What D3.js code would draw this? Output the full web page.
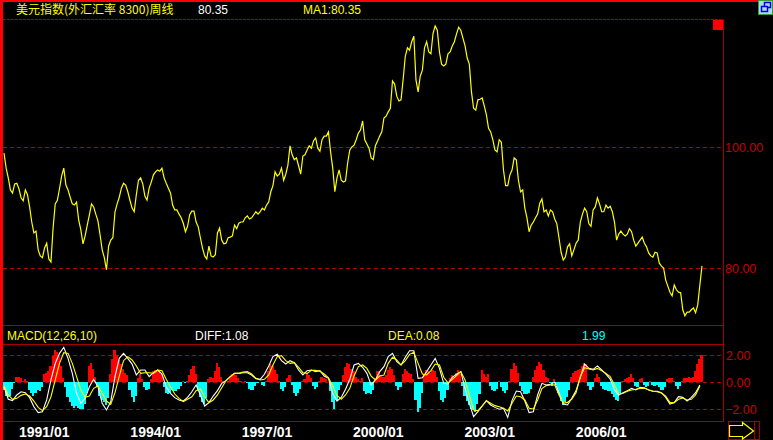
<!DOCTYPE html>
<html><head><meta charset="utf-8">
<script src="https://cdn.jsdelivr.net/npm/d3@7"></script>
<style>html,body{margin:0;padding:0;background:#000;overflow:hidden}</style>
</head><body><svg id="c" width="773" height="440"></svg>
<script>
// ---------------- data ----------------
const titleText = "美元指数(外汇汇率 8300)周线";
const closeText = "80.35";
const maText = "MA1:80.35";
const macdTitle = "MACD(12,26,10)";
const diffText = "DIFF:1.08";
const deaText = "DEA:0.08";
const macdText = "1.99";

const startDate = new Date(1990, 7, 7);
const priceStepDays = 21;   // one sample every 3 weeks
const lineStepDays = 42;    // DIFF / DEA sampled every 6 weeks

const price = [
99.0,96.5,94.9,92.9,92.4,93.9,94.0,93.1,91.6,91.1,
92.9,92.1,90.1,87.6,85.8,86.1,83.0,82.0,81.7,83.3,
84.1,81.5,81.0,86.6,90.6,91.2,93.1,95.2,96.5,93.7,
92.9,91.7,90.6,90.4,90.9,87.9,86.3,84.0,85.3,87.1,
88.8,90.6,90.1,88.9,87.8,85.5,83.0,81.7,79.7,83.6,
84.6,85.0,89.3,90.6,91.7,93.2,94.0,93.7,92.6,91.2,
89.9,89.3,92.1,94.5,94.9,93.9,91.9,91.2,93.2,94.2,
95.4,95.9,96.2,96.0,96.5,94.9,94.0,93.2,92.4,90.4,
89.6,89.6,88.9,88.3,87.4,86.0,86.9,88.8,89.4,89.4,
87.6,86.8,85.0,83.3,82.0,81.5,83.6,82.0,81.8,82.2,
85.8,86.6,84.6,84.0,84.1,85.0,85.1,85.3,87.1,86.5,
87.4,87.6,87.6,88.3,88.6,88.1,88.3,88.8,89.3,88.9,
89.3,89.9,89.6,90.4,90.9,92.6,93.6,95.9,95.2,95.5,
96.5,94.5,95.5,97.0,100.2,98.7,97.9,98.2,96.9,95.5,
98.5,98.7,99.5,100.2,99.8,101.0,101.5,99.8,99.3,101.2,
101.8,101.8,102.5,99.2,96.5,92.6,94.9,96.2,94.5,94.2,
94.4,97.4,99.5,100.0,100.3,101.2,102.3,102.8,104.3,101.2,
100.5,99.8,98.2,97.9,100.2,101.0,101.8,102.5,104.8,105.1,
105.8,106.4,110.9,110.4,108.4,107.6,107.8,111.2,115.0,116.4,
116.0,117.4,118.3,111.1,109.1,111.7,112.7,116.4,117.4,115.7,
115.4,118.8,120.0,119.3,115.7,113.7,113.4,113.7,115.4,115.7,
116.7,117.4,118.7,119.8,119.3,118.0,116.7,114.7,113.7,109.1,
106.4,106.1,107.8,107.9,108.1,106.8,105.3,103.1,102.5,101.2,
99.5,99.2,101.2,100.8,96.2,93.6,93.6,95.4,96.2,98.2,
97.9,94.5,92.6,92.9,89.9,88.3,86.0,87.1,87.6,88.3,
88.9,90.7,91.4,89.3,89.6,88.6,89.6,89.3,88.1,87.3,
85.0,82.6,81.3,81.8,83.5,84.0,82.0,83.0,84.1,84.6,
87.6,88.9,89.9,89.3,87.3,86.9,89.6,90.1,91.6,90.6,
89.3,89.3,90.4,89.9,90.2,89.3,87.6,84.6,85.6,86.1,
85.6,85.3,85.6,86.5,86.0,84.6,83.6,84.1,84.6,85.1,
84.1,83.5,82.5,82.0,81.8,82.6,82.5,80.8,80.3,80.0,
78.0,77.0,76.0,75.4,77.2,76.4,76.0,75.9,73.1,72.1,
72.7,72.7,73.1,73.4,72.6,73.9,77.2,80.35];

const macd = [
-0.6,-1.0,-1.1,-1.0,-0.5,-0.1,0.4,0.4,0.3,0.1,
0.2,0.1,-0.6,-0.8,-1.0,-0.8,-0.6,-0.7,-0.4,0.6,
0.7,0.8,1.2,1.9,2.4,2.2,1.9,1.2,0.3,-0.4,
-1.1,-1.5,-1.8,-1.9,-1.8,-1.9,-2.0,-2.0,-1.6,-0.8,
1.2,1.4,1.0,0.4,-0.4,-1.0,-1.3,-1.5,-1.7,-1.2,
0.6,1.7,2.4,2.0,1.6,1.3,1.0,0.7,0.5,-0.6,
-1.1,-1.5,-1.0,0.3,0.6,0.2,-0.4,-0.6,-0.5,0.2,
0.8,0.9,0.9,0.8,0.6,-0.4,-0.8,-0.9,-0.8,-0.6,
-0.7,-0.7,-0.5,-0.3,0.1,-0.1,0.1,0.5,1.0,1.2,
0.6,-0.6,-1.1,-1.5,-1.6,-1.2,0.2,0.4,0.3,0.8,
1.4,1.1,0.4,0.1,0.0,0.1,0.4,0.6,0.7,0.5,
0.3,0.1,0.0,0.1,-0.1,-0.5,-0.6,-0.6,-0.3,-0.1,
0.0,-0.2,-0.3,0.1,0.8,1.3,1.2,0.9,0.6,0.1,
-0.5,-0.7,-0.4,0.3,0.5,-0.2,-0.8,-1.0,-0.8,-0.5,
0.1,0.2,0.6,0.5,0.3,-0.3,-0.5,-0.4,0.1,0.4,
0.3,0.2,0.0,-0.7,-1.5,-2.0,-1.3,-0.6,-0.2,0.5,
1.1,1.4,1.3,1.0,0.8,0.4,0.2,0.1,0.3,-0.7,
-0.9,-0.8,-0.9,-0.6,0.3,0.8,0.8,0.5,0.4,0.5,
0.9,1.1,1.0,0.5,-0.3,-0.6,-0.4,0.6,1.0,0.8,
0.7,0.6,0.2,-1.3,-2.2,-1.9,-0.8,0.6,0.9,0.8,
0.7,0.9,0.8,0.4,-0.7,-1.3,-1.5,-1.2,-0.6,0.3,
0.5,0.4,0.7,0.9,0.6,-0.3,-1.0,-1.4,-1.7,-2.0,
-2.1,-2.2,-1.6,-0.9,0.9,0.6,0.4,0.6,-0.3,-0.6,
-0.7,-0.5,0.1,-0.4,-0.7,-0.8,-0.6,0.1,1.0,1.4,
1.2,0.7,-0.3,-0.7,-0.9,-0.9,-0.8,-0.5,0.4,0.9,
1.2,1.5,1.3,0.9,0.4,0.3,-0.1,-0.3,0.2,-0.2,
-0.8,-1.4,-1.7,-1.5,-1.1,-0.6,0.4,0.7,0.8,0.9,
1.0,1.2,1.4,1.3,-0.3,-0.6,-0.4,0.3,0.6,0.4,
-0.3,-0.5,-0.6,-0.7,-0.7,-0.9,-1.1,-1.3,-1.4,-0.8,
0.1,0.2,0.3,0.4,0.6,0.3,-0.3,-0.4,0.2,0.3,
-0.2,-0.4,-0.3,0.1,-0.2,-0.3,-0.2,-0.4,-0.6,-0.6,
-0.4,0.2,0.3,0.3,0.1,-0.3,-0.5,-0.3,0.1,0.3,
0.3,0.4,0.3,0.4,0.8,1.3,1.7,1.99];

const diff = [
-0.35,-1.28,-1.38,-0.96,-0.72,-0.79,-1.16,-1.83,-2.27,-2.20,
-1.33,0.15,1.38,2.12,2.57,1.75,0.64,-0.84,-1.58,-1.21,
-0.35,0.20,-0.35,-1.58,-2.07,-1.46,0.40,1.75,2.12,1.75,
1.33,0.52,0.89,0.89,0.40,0.69,0.89,0.59,-0.35,-0.84,
-1.16,-1.33,-1.41,-1.14,-0.72,-0.22,-0.96,-1.78,-1.53,-1.04,
-0.64,-0.10,0.10,0.40,0.64,0.64,0.69,0.69,0.52,0.25,
0.20,0.57,1.19,1.88,2.05,1.58,1.33,1.58,1.43,0.89,
0.52,0.84,0.89,0.77,0.84,0.44,0.27,-0.84,-1.41,-1.14,
-0.54,0.20,1.26,1.38,1.09,0.64,-0.22,0.15,0.77,1.14,
1.88,2.12,1.51,1.26,1.83,2.32,2.32,0.27,0.32,0.77,
1.26,1.75,1.01,-0.10,-0.15,0.35,0.57,0.77,-0.47,-1.58,
-2.57,-2.20,-1.78,-1.38,-1.70,-1.88,-2.02,-1.95,-2.62,-1.38,
-0.67,-0.72,-1.41,-2.27,-2.20,-0.96,-0.10,-0.22,-0.17,-0.02,
-0.79,-1.63,-1.70,-1.21,-0.64,0.35,1.33,1.01,0.94,1.19,
0.89,0.59,0.22,-0.59,-0.96,-0.79,-0.64,-0.47,-0.59,-0.40,
-0.42,-0.59,-0.69,-0.69,-0.79,-1.14,-1.63,-1.53,-1.09,-1.14,
-1.41,-1.14,-0.79,-0.22];

const dea = [
-0.30,-0.96,-1.28,-1.21,-0.99,-0.89,-1.04,-1.41,-1.88,-2.12,
-1.83,-1.09,0.15,1.38,2.17,2.12,1.38,0.40,-0.59,-1.14,
-1.04,-0.47,-0.30,-0.84,-1.41,-1.65,-0.79,0.44,1.58,1.88,
1.63,1.19,0.64,0.69,0.69,0.64,0.89,0.84,0.20,-0.35,
-0.89,-1.21,-1.46,-1.28,-1.09,-0.64,-0.52,-1.09,-1.53,-1.33,
-0.96,-0.42,0.10,0.40,0.64,0.64,0.74,0.77,0.59,0.27,
0.15,0.20,0.52,1.26,1.88,1.95,1.58,1.38,1.43,1.09,
0.69,0.64,0.86,0.86,0.79,0.59,0.30,-0.30,-0.99,-1.28,
-0.96,-0.47,0.44,1.14,1.26,1.01,0.44,0.15,0.44,0.52,
1.38,1.83,1.63,1.26,1.58,2.05,2.20,1.38,0.59,0.52,
0.84,1.33,1.26,0.35,-0.07,0.20,0.47,0.77,0.15,-0.96,
-2.07,-2.12,-1.78,-1.38,-1.58,-1.75,-1.83,-1.95,-2.15,-1.58,
-1.04,-1.09,-1.33,-1.95,-2.00,-1.33,-0.49,-0.27,-0.22,-0.20,
-0.96,-1.58,-1.51,-1.26,-0.79,0.40,1.06,0.96,0.89,1.01,
0.84,0.64,0.40,-0.22,-0.89,-0.84,-0.69,-0.59,-0.54,-0.47,
-0.47,-0.57,-0.69,-0.72,-0.81,-1.04,-1.53,-1.53,-1.28,-1.19,
-1.33,-1.28,-0.96,-0.30];

const priceTicks = [100, 80];
const macdTicks = [2, 0, -2];
const dateLabels = ["1991/01","1994/01","1997/01","2000/01","2003/01","2006/01"];

// ---------------- drawing ----------------
const DAY = 864e5;
const priceDates = price.map((_, i) => new Date(+startDate + i * priceStepDays * DAY));
const lineDates = diff.map((_, j) => new Date(+startDate + j * lineStepDays * DAY));

const svg = d3.select("#c");
const FRAME = "#a80000", GRID = "#b00000", LABEL = "#c80000";
const plotL = 3, plotR = 723;

svg.append("rect").attr("width", 773).attr("height", 440).attr("fill", "#000");

const x = d3.scaleTime().domain([priceDates[0], priceDates[priceDates.length - 1]]).range([4, 702]);
const y = d3.scaleLinear().domain([80, 100]).range([268, 147]);
const ym = d3.scaleLinear().domain([-2, 2]).range([409, 355]);

const fmt = d3.format(".2f");

// price grid
svg.append("g").selectAll("line").data(priceTicks).join("line")
  .attr("x1", plotL).attr("x2", plotR)
  .attr("y1", d => Math.round(y(d)) + 0.5).attr("y2", d => Math.round(y(d)) + 0.5)
  .attr("stroke", GRID).attr("stroke-dasharray", "4,3");
svg.append("g").selectAll("text").data(priceTicks).join("text")
  .attr("x", 725).attr("y", d => y(d) + 4.5)
  .attr("fill", LABEL).attr("font-family", "Liberation Sans, Arial, sans-serif").attr("font-size", 12.5)
  .text(d => fmt(d));

// macd grid
svg.append("g").selectAll("line").data(macdTicks).join("line")
  .attr("x1", plotL).attr("x2", plotR)
  .attr("y1", d => Math.round(ym(d)) + 0.5).attr("y2", d => Math.round(ym(d)) + 0.5)
  .attr("stroke", GRID).attr("stroke-dasharray", "4,3");
svg.append("g").selectAll("text").data(macdTicks).join("text")
  .attr("x", d => d < 0 ? 725 : 726).attr("y", d => ym(d) + 4.5)
  .attr("fill", LABEL).attr("font-family", "Liberation Sans, Arial, sans-serif").attr("font-size", 12.5)
  .text(d => fmt(d));

// price line
svg.append("path").datum(price)
  .attr("fill", "none").attr("stroke", "#ffff00").attr("stroke-width", 1.2)
  .attr("d", d3.line().x((d, i) => x(priceDates[i])).y(d => y(d)));

// MACD histogram (contiguous columns)
const bw = x(priceDates[1]) - x(priceDates[0]);
const colL = i => Math.floor(x(priceDates[i]) - bw / 2);
svg.append("g").attr("shape-rendering", "crispEdges").selectAll("rect").data(macd).join("rect")
  .attr("x", (d, i) => colL(i))
  .attr("width", (d, i) => Math.max(1, (i < macd.length - 1 ? colL(i + 1) : Math.floor(x(priceDates[i]) + bw / 2)) - colL(i)))
  .attr("y", d => Math.min(ym(d), ym(0)))
  .attr("height", d => Math.abs(ym(d) - ym(0)))
  .attr("fill", d => d >= 0 ? "#ff0000" : "#00ffff");

// DIFF and DEA
const ml = d3.line().x((d, j) => x(lineDates[j])).y(d => ym(d));
svg.append("path").datum(diff).attr("fill", "none").attr("stroke", "#ffffff").attr("stroke-width", 1.1).attr("d", ml);
svg.append("path").datum(dea).attr("fill", "none").attr("stroke", "#ffff00").attr("stroke-width", 1.1).attr("d", ml);

// frame lines
const hl = (yy, dash) => svg.append("line").attr("x1", plotL).attr("x2", plotR).attr("y1", yy).attr("y2", yy)
  .attr("stroke", FRAME).attr("stroke-dasharray", dash || null);
hl(19.5, "3,1");
hl(325.5);
hl(344.5);
hl(421.5);
svg.append("line").attr("x1", 723.5).attr("x2", 723.5).attr("y1", 19).attr("y2", 422).attr("stroke", FRAME);
svg.append("rect").attr("x", 713).attr("y", 20).attr("width", 10).attr("height", 10).attr("fill", "#ff0000");

// outer red borders
svg.append("rect").attr("x", 0).attr("y", 0).attr("width", 3).attr("height", 440).attr("fill", "#ff0000");
svg.append("rect").attr("x", 0).attr("y", 0).attr("width", 758).attr("height", 2).attr("fill", "#ff0000");

// window icon (top right)
svg.append("rect").attr("x", 758.5).attr("y", 0.5).attr("width", 14).attr("height", 14)
  .attr("fill", "#a8dce4").attr("stroke", "#3c9c3c");
svg.append("rect").attr("x", 764.5).attr("y", 2.5).attr("width", 6).attr("height", 5).attr("fill", "none").attr("stroke", "#0000e0").attr("stroke-width", 1.5);
svg.append("rect").attr("x", 761.5).attr("y", 6.5).attr("width", 6).attr("height", 5).attr("fill", "#a8dce4").attr("stroke", "#0000e0").attr("stroke-width", 1.5);

// header texts
const T = (tx, xx, yy, col, fam) => svg.append("text").attr("x", xx).attr("y", yy).attr("fill", col)
  .attr("font-family", fam || "Liberation Sans, Arial, sans-serif").attr("font-size", 12).text(tx);
T(titleText, 16, 14, "#ffff00", "Noto Sans CJK SC, sans-serif");
T(closeText, 198, 14, "#ffffff");
T(maText, 303, 14, "#ffff00");
T(macdTitle, 7, 340, "#ffff00");
T(diffText, 195, 340, "#ffffff");
T(deaText, 388, 340, "#ffff00");
T(macdText, 582, 340, "#00ffff");

// date labels
svg.append("g").selectAll("text").data(dateLabels).join("text")
  .attr("x", d => x(new Date(+d.slice(0, 4), +d.slice(5) - 1, 1)))
  .attr("y", 437)
  .attr("fill", "#ffffff").attr("font-family", "Liberation Sans, Arial, sans-serif")
  .attr("font-weight", "bold").attr("font-size", 14).text(d => d);

// scroll arrow (bottom right)
svg.append("rect").attr("x", 728.5).attr("y", 421.5).attr("width", 31).attr("height", 18).attr("fill", "none").attr("stroke", FRAME);
svg.append("line").attr("x1", 754.5).attr("x2", 754.5).attr("y1", 421).attr("y2", 440).attr("stroke", FRAME);
svg.append("polygon").attr("points", "729.5,425.5 742.5,425.5 742.5,422.5 753.5,431 742.5,439 742.5,436.5 729.5,436.5")
  .attr("fill", "none").attr("stroke", "#ffff00").attr("stroke-width", 1.2);
</script></body></html>
